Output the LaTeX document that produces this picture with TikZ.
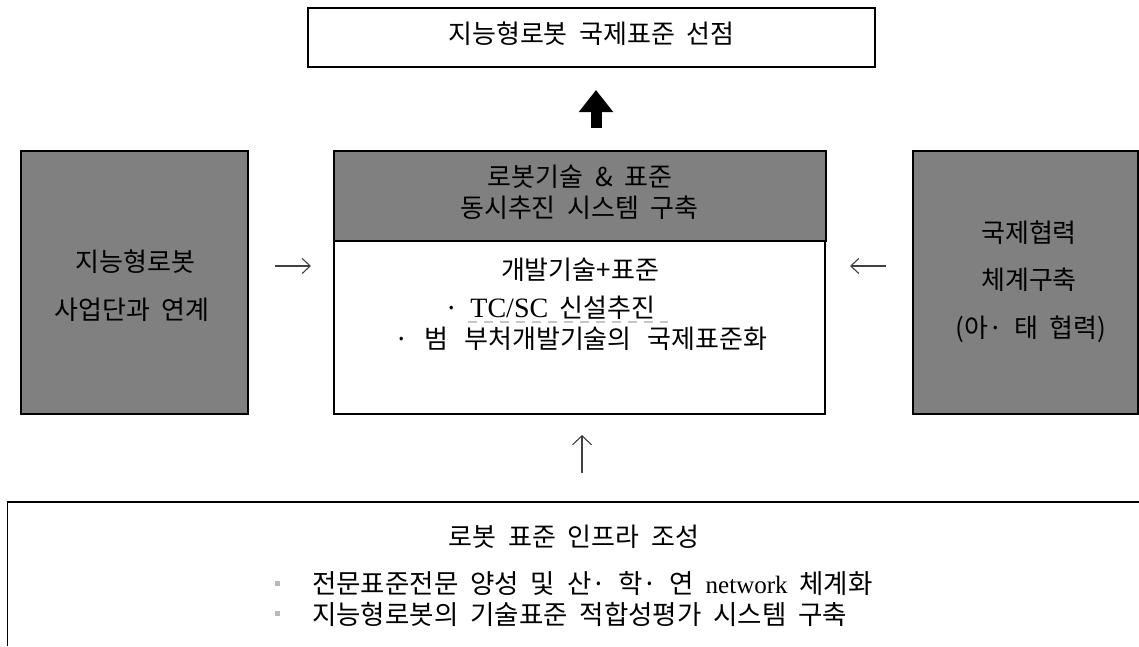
\documentclass[tikz,border=0pt]{standalone}
\usepackage{fontspec}
\setmainfont{Noto Sans CJK KR}[WordSpace=2.0]
\newfontfamily\latinserif{Liberation Serif}
\usetikzlibrary{arrows.meta}
\definecolor{boxgray}{HTML}{808080}
\definecolor{arrowgray}{HTML}{404040}
\tikzset{
  frame/.style={draw=black, line width=1.4pt, inner sep=0pt},
  grayframe/.style={frame, fill=boxgray},
  lbl/.style={inner sep=0pt, font=\fontsize{26}{30}\selectfont},
  smalllbl/.style={inner sep=0pt, font=\fontsize{26.5}{30}\selectfont},
  thinarrow/.style={draw=arrowgray, line width=1.1pt, -{Straight Barb[length=9pt,width=19pt]}},
  sidearrow/.style={draw=arrowgray, line width=1.1pt, -{Straight Barb[length=8pt,width=15pt]}},
  bulletsq/.style={fill=gray!55, minimum size=5pt, inner sep=0pt},
}
\begin{document}
\begin{tikzpicture}[x=1pt,y=-1pt]
\useasboundingbox (0,0) rectangle (1139,646);
\fill[white] (0,0) rectangle (1139,646);

% top goal box
\node[frame, minimum width=567pt, minimum height=59pt] (goal) at (591.5,37.5) {};
\node[lbl] (goaltxt) at (591.5,34) {지능형로봇 국제표준 선점};

% thick arrow
\coordinate (ta0) at (596,128);
\coordinate (ta1) at (596,90);
\draw[line width=11pt, -{Triangle[width=33pt,length=22pt]}] (ta0) -- (ta1);

% left gray box
\node[grayframe, minimum width=227pt, minimum height=263pt] (left) at (134.5,282.5) {};
\node[lbl] (l1) at (135.5,262) {지능형로봇};
\node[lbl] (l2) at (132,310) {사업단과 연계};

% center box
\node[frame, fill=white, minimum width=491pt, minimum height=263pt] (center) at (579.5,282.5) {};
\node[grayframe, minimum width=492pt, minimum height=90pt] (header) at (580,196) {};
\node[lbl] (h1) at (580,177) {로봇기술 \& 표준};
\node[lbl] (h2) at (579.5,208) {동시추진 시스템 구축};
\node[lbl] (c1) at (580,270) {개발기술+표준};
\node[lbl, anchor=west] (c2) at (444,308) {· {\latinserif\fontsize{28}{30}\selectfont TC/SC} 신설추진};
\node[lbl, anchor=west] (c3) at (394,339) {·\, 범\hspace{4pt} 부처개발기술의\hspace{4pt} 국제표준화};
\draw[gray!45, line width=1.6pt, dash pattern=on 9pt off 7pt] (468,322) -- (668,322);

% right gray box
\node[grayframe, minimum width=225pt, minimum height=263pt] (right) at (1025.5,282.5) {};
\node[lbl] (r1) at (1029,233) {국제협력};
\node[lbl] (r2) at (1029,280) {체계구축};
\node[lbl] (r3) at (1031,329) {(아· 태 협력)};

% side arrows
\coordinate (la0) at (275,266);
\coordinate (la1) at (311,266);
\draw[sidearrow] (la0) -- (la1);
\coordinate (ra0) at (886,266);
\coordinate (ra1) at (850,266);
\draw[sidearrow] (ra0) -- (ra1);

% bottom up arrow
\coordinate (ua0) at (582,473);
\coordinate (ua1) at (582,435);
\draw[thinarrow] (ua0) -- (ua1);

% bottom infrastructure box (open at right and bottom)
\coordinate (bl) at (7,646);
\coordinate (tl) at (7,502);
\coordinate (tr) at (1139,502);
\draw[black, line width=1pt] (bl) -- (tl);
\draw[black, line width=2.6pt] (tl) -- (tr);
\node[lbl] (infra) at (574,537) {로봇 표준 인프라 조성};
\node[bulletsq] (b1) at (277,583) {};
\node[bulletsq] (b2) at (277,613) {};
\node[smalllbl, anchor=west] (i1) at (312,584) {전문표준전문 양성 및 산· 학· 연 {\latinserif\fontsize{25}{30}\selectfont network} 체계화};
\node[smalllbl, anchor=west] (i2) at (312,614) {지능형로봇의 기술표준 적합성평가 시스템 구축};
\end{tikzpicture}
\end{document}
